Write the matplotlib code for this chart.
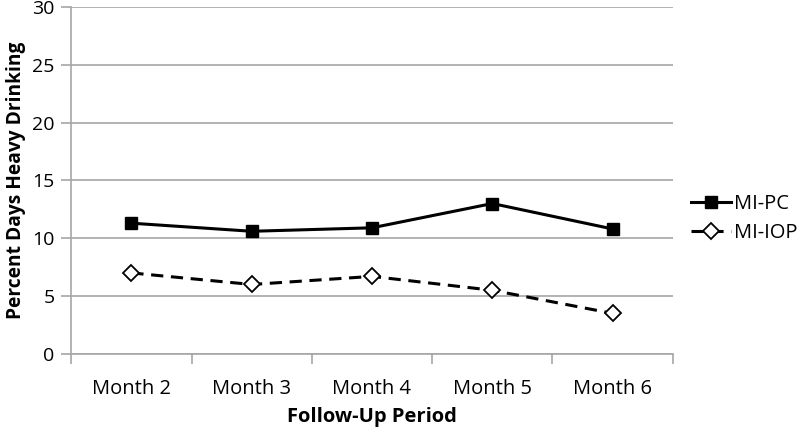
import numpy as np
import matplotlib.pyplot as plt
from matplotlib.ticker import FixedLocator

plt.rcParams['font.family'] = ['Open Sans', 'DejaVu Sans']

months = ['Month 2', 'Month 3', 'Month 4', 'Month 5', 'Month 6']
mi_pc = [11.3, 10.6, 10.9, 13.0, 10.8]
mi_iop = [7.0, 6.0, 6.7, 5.5, 3.5]

fig = plt.figure(figsize=(8, 4.3), dpi=100)
ax = fig.add_axes([0.089, 0.177, 0.752, 0.807])

x = np.arange(len(months))
ax.plot(x, mi_pc, color='black', lw=2.2, marker='s', ms=9,
        markerfacecolor='black', label='MI-PC', zorder=3)
ax.plot(x, mi_iop, color='black', lw=2.2, ls=(0, (4, 2.5)), marker='D', ms=8,
        markerfacecolor='white', markeredgewidth=1.3, label='MI-IOP', zorder=3)

ax.set_xlim(-0.5, len(months) - 0.5)
ax.set_ylim(0, 30)
ax.set_yticks(range(0, 31, 5))
ax.grid(axis='y', color='#a6a6a6', lw=1.2)
ax.set_axisbelow(True)

ax.set_xticks(x)
ax.set_xticklabels(months)
ax.xaxis.set_minor_locator(FixedLocator(np.arange(-0.5, len(months), 1.0)))
ax.tick_params(axis='x', which='major', length=0, pad=18, labelsize=14.5)
ax.tick_params(axis='x', which='minor', length=7, color='#a6a6a6', width=1.2, direction='out')
ax.tick_params(axis='y', length=7, color='#a6a6a6', width=1.2, labelsize=14, pad=5)

for s in ['top', 'right']:
    ax.spines[s].set_visible(False)
for s in ['left', 'bottom']:
    ax.spines[s].set_color('#a6a6a6')
    ax.spines[s].set_linewidth(1.2)

ax.set_xlabel('Follow-Up Period', fontsize=14.5, fontweight='bold', labelpad=6)
ax.set_ylabel('Percent Days Heavy Drinking', fontsize=13.8, fontweight='bold', labelpad=4)

ax.legend(loc='center left', bbox_to_anchor=(1.0, 0.39), frameon=False,
          fontsize=14.5, handlelength=2.0, handletextpad=0.15, labelspacing=0.45)

fig.savefig('out.png', dpi=100)
